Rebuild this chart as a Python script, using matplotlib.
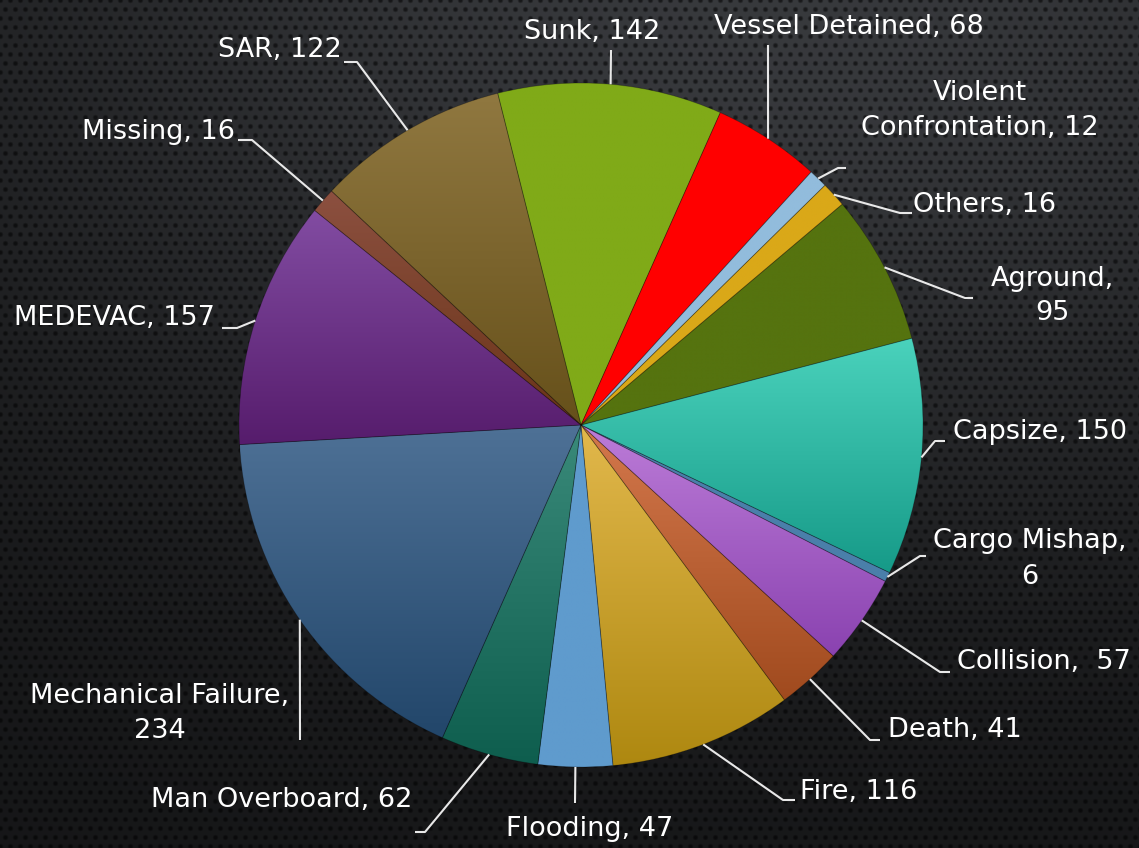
import numpy as np
import matplotlib
matplotlib.use("Agg")
import matplotlib.pyplot as plt
from matplotlib.colors import LinearSegmentedColormap

# Dane (kolejność jak na wykresie, zgodnie z ruchem wskazówek zegara)
categories = ["Aground", "Capsize", "Cargo Mishap", "Collision", "Death", "Fire",
              "Flooding", "Man Overboard", "Mechanical Failure", "MEDEVAC",
              "Missing", "SAR", "Sunk", "Vessel Detained",
              "Violent Confrontation", "Others"]
values = [95, 150, 6, 57, 41, 116, 47, 62, 234, 157, 16, 122, 142, 68, 12, 16]

# kolory: góra / dół gradientu
top_colors = ["#55730f", "#4ad2bc", "#4a7faa", "#bc7cd8", "#d4784c", "#e2b84c",
              "#5f9bcd", "#3a8a7a", "#4e7196", "#824ca2", "#8c5040", "#907840",
              "#80aa18", "#ff0000", "#92bcdc", "#daa818"]
bottom_colors = ["#55730f", "#169a88", "#4a7faa", "#8a42b0", "#a04a1e", "#ae8810",
                 "#5f9bcd", "#0e5e4e", "#22466a", "#561c6c", "#6a3418", "#66501a",
                 "#80aa18", "#ff0000", "#92bcdc", "#daa818"]

W, H = 1139, 848
CX, CY, R = 581, 425, 342

fig = plt.figure(figsize=(W / 100, H / 100), dpi=100)

# Tło - ciemna perforowana tekstura
yy, xx = np.mgrid[0:H, 0:W].astype(float)
base = 0.085 + 0.14 * np.exp(-(((xx - 760) / 800) ** 2 + (yy / 520) ** 2))
row = np.round(yy / 9)
off = (row % 2) * 5
col = np.round((xx - off) / 10)
dist = np.hypot(xx - (col * 10 + off), yy - row * 9)
dots = np.clip(1 - (dist - 1.2) / 2.0, 0, 1)
lum = base * (1 - 0.55 * dots)
bg = np.dstack([lum * 0.97, lum * 1.0, lum * 1.06])
bg = np.clip(bg, 0, 1)
ax_bg = fig.add_axes([0, 0, 1, 1], zorder=0)
ax_bg.imshow(bg, aspect="auto", interpolation="bilinear")
ax_bg.axis("off")

# Wykres kołowy
ax = fig.add_axes([(CX - R) / W, (H - CY - R) / H, 2 * R / W, 2 * R / H], zorder=1)
wedges, _ = ax.pie(values, startangle=40.2, counterclock=False, radius=1.0)
grad = np.linspace(0, 1, 256).reshape(-1, 1)
for w, c1, c2 in zip(wedges, top_colors, bottom_colors):
    bb = w.get_path().get_extents()
    cmap = LinearSegmentedColormap.from_list("g", [c1, c2])
    im = ax.imshow(grad, extent=(bb.x0, bb.x1, bb.y0, bb.y1), origin="upper",
                   cmap=cmap, aspect="auto", interpolation="bilinear", zorder=2)
    im.set_clip_path(w)
    w.set_facecolor("none")
    w.set_edgecolor((0, 0, 0, 0.25))
    w.set_linewidth(0.6)
    w.set_zorder(3)
ax.set_xlim(-1, 1)
ax.set_ylim(-1, 1)
ax.set_aspect("equal")
ax.axis("off")

# Etykiety i linie odniesienia (współrzędne w pikselach)
ov = fig.add_axes([0, 0, 1, 1], zorder=2)
ov.set_xlim(0, W)
ov.set_ylim(H, 0)
ov.axis("off")
ov.patch.set_alpha(0)

display = {"Violent Confrontation": "Violent\nConfrontation"}
sep = {"Aground": "\n", "Cargo Mishap": "\n", "Mechanical Failure": "\n",
       "Collision": "  "}
# (x, y, wyrównanie, punkty linii)
layout = {
    "Aground": (1052, 296, "center", [(965, 298), (973, 298)]),
    "Capsize": (953, 432, "left", [(935, 441), (945, 441)]),
    "Cargo Mishap": (1030, 559, "center", [(920, 556), (926, 556)]),
    "Collision": (957, 662, "left", [(940, 672), (950, 672)]),
    "Death": (888, 730, "left", [(870, 740), (880, 740)]),
    "Fire": (800, 792, "left", [(783, 800), (795, 800)]),
    "Flooding": (590, 829, "center", [(575, 803)]),
    "Man Overboard": (412, 800, "right", [(425, 832), (415, 832)]),
    "Mechanical Failure": (160, 713, "center", [(300, 740)]),
    "MEDEVAC": (215, 318, "right", [(237, 328), (222, 328)]),
    "Missing": (235, 132, "right", [(252, 140), (238, 140)]),
    "SAR": (342, 50, "right", [(357, 62), (344, 62)]),
    "Sunk": (592, 32, "center", [(611, 50)]),
    "Vessel Detained": (849, 27, "center", [(768, 45)]),
    "Violent Confrontation": (980, 110, "center", [(838, 168), (846, 168)]),
    "Others": (913, 205, "left", [(900, 213), (912, 213)]),
}

for w, name, val in zip(wedges, categories, values):
    mid = np.deg2rad((w.theta1 + w.theta2) / 2)
    ax_px = CX + R * np.cos(mid)
    ay_px = CY - R * np.sin(mid)
    tx, ty, ha, pts = layout[name]
    xs = [ax_px] + [p[0] for p in pts]
    ys = [ay_px] + [p[1] for p in pts]
    ov.plot(xs, ys, color="#e8e8e8", lw=1.5, solid_capstyle="butt")
    label = f"{display.get(name, name)},{sep.get(name, ' ')}{val}"
    ov.text(tx, ty, label, ha=ha, va="center", multialignment="center",
            color="white", fontsize=19.5, family="DejaVu Sans",
            linespacing=1.45)

fig.savefig("out.png", dpi=100)
